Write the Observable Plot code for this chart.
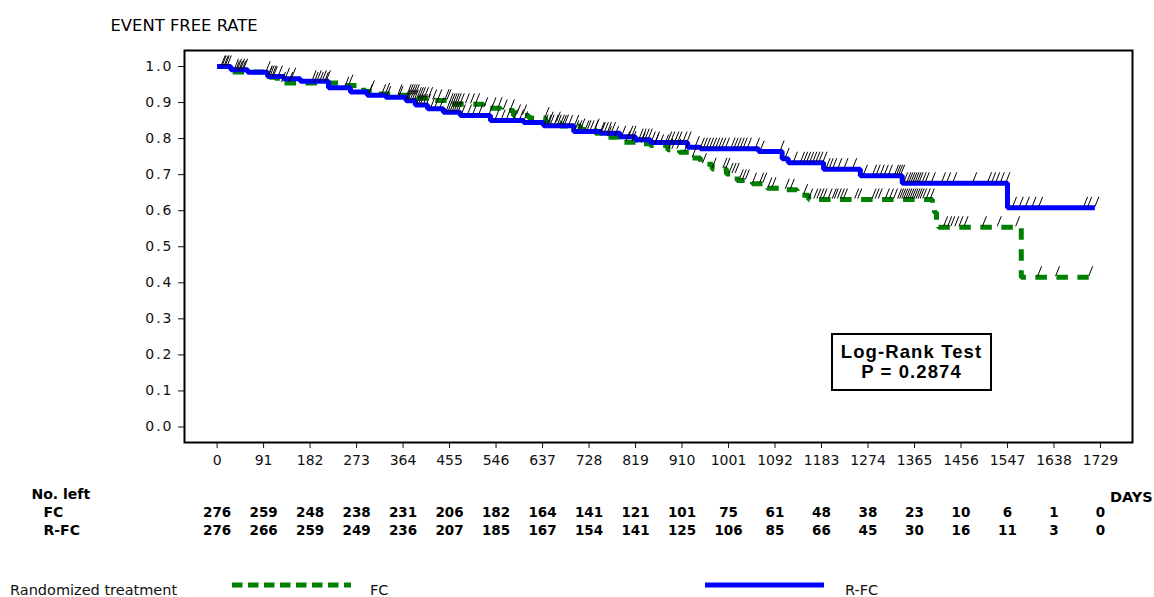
<!DOCTYPE html>
<html>
<head>
<meta charset="utf-8">
<script src="https://cdn.jsdelivr.net/npm/d3@7"></script>
<script src="https://cdn.jsdelivr.net/npm/@observablehq/plot@0.6"></script>
<style>
  body { margin: 0; background: #fff; }
  #wrap { position: relative; width: 1154px; height: 597px; background: #fff; overflow: hidden; }
  g[aria-label="y-axis tick label"] text { letter-spacing: 2px; }
  #box { position: absolute; left: 831px; top: 333px; width: 161px; height: 58px; box-sizing: border-box;
         border: 2px solid #000; padding-top: 7px; text-align: center;
         font-family: "Liberation Sans", Arial, sans-serif; font-weight: bold; font-size: 18.5px;
         line-height: 20px; letter-spacing: 1.1px; color: #000; }
  #legend { position: absolute; left: 0; top: 560px; }
</style>
</head>
<body>
<div id="wrap">
  <div id="chart"></div>
  <div id="box">Log-Rank Test<br>P = 0.2874</div>
</div>
<script>
// ---- data ----
const xTicks = [0, 91, 182, 273, 364, 455, 546, 637, 728, 819, 910, 1001, 1092, 1183, 1274, 1365, 1456, 1547, 1638, 1729];
const yTicks = [0, 0.1, 0.2, 0.3, 0.4, 0.5, 0.6, 0.7, 0.8, 0.9, 1.0];
const fcAtRisk  = [276, 259, 248, 238, 231, 206, 182, 164, 141, 121, 101, 75, 61, 48, 38, 23, 10, 6, 1, 0];
const rfcAtRisk = [276, 266, 259, 249, 236, 207, 185, 167, 154, 141, 125, 106, 85, 66, 45, 30, 16, 11, 3, 0];

// Kaplan-Meier step curves (day of step, survival after step)
const rfcDays = [0, 27, 60, 99, 130, 163, 218, 261, 294, 330, 370, 388, 412, 443, 476, 535, 600, 639, 698, 751, 789, 819, 848, 921, 946, 1060, 1106, 1118, 1187, 1259, 1341, 1547, 1718];
const rfcSurv = [1.000, 0.991, 0.984, 0.972, 0.966, 0.959, 0.941, 0.929, 0.920, 0.915, 0.905, 0.893, 0.883, 0.873, 0.864, 0.850, 0.845, 0.836, 0.820, 0.815, 0.805, 0.797, 0.789, 0.776, 0.772, 0.764, 0.744, 0.733, 0.715, 0.697, 0.676, 0.608, 0.608];
const fcDays = [0, 25, 91, 118, 255, 287, 314, 353, 392, 422, 451, 521, 555, 580, 610, 643, 672, 711, 741, 751, 784, 819, 848, 882, 905, 925, 946, 969, 997, 1018, 1048, 1077, 1108, 1135, 1158, 1400, 1404, 1408, 1412, 1574, 1706];
const fcSurv = [1.000, 0.985, 0.970, 0.954, 0.947, 0.931, 0.924, 0.920, 0.912, 0.906, 0.895, 0.884, 0.878, 0.864, 0.857, 0.844, 0.835, 0.825, 0.815, 0.804, 0.790, 0.786, 0.781, 0.769, 0.762, 0.746, 0.729, 0.716, 0.702, 0.684, 0.675, 0.662, 0.658, 0.643, 0.631, 0.615, 0.595, 0.572, 0.554, 0.4155, 0.4155];

// censored observation times
const rfcCensor = [8, 14, 20, 34, 40, 46, 52, 96, 100, 104, 108, 120, 134, 146, 186, 196, 206, 214, 250, 296, 322, 332, 356, 370, 374, 378, 382, 386, 390, 394, 398, 404, 410, 418, 426, 436, 448, 452, 456, 460, 464, 468, 472, 478, 490, 500, 512, 532, 544, 556, 566, 580, 592, 600, 640, 646, 652, 660, 666, 672, 680, 700, 706, 720, 724, 730, 738, 752, 758, 764, 772, 792, 806, 812, 826, 832, 838, 844, 850, 858, 882, 888, 896, 902, 912, 920, 936, 946, 952, 958, 964, 970, 976, 982, 988, 995, 1006, 1012, 1018, 1024, 1030, 1038, 1054, 1063, 1102, 1112, 1128, 1142, 1148, 1154, 1160, 1166, 1172, 1178, 1186, 1192, 1198, 1205, 1215, 1227, 1244, 1265, 1283, 1290, 1298, 1306, 1314, 1326, 1330, 1334, 1338, 1344, 1350, 1354, 1358, 1362, 1366, 1370, 1374, 1380, 1386, 1398, 1418, 1428, 1440, 1479, 1508, 1516, 1524, 1533, 1544, 1557, 1570, 1582, 1595, 1608, 1696, 1704, 1718];
const fcCensor = [10, 16, 36, 42, 48, 100, 110, 126, 140, 190, 200, 210, 258, 300, 330, 354, 372, 376, 380, 384, 388, 392, 396, 400, 406, 414, 422, 432, 446, 450, 454, 458, 462, 466, 470, 476, 486, 496, 506, 522, 538, 550, 560, 574, 586, 598, 642, 650, 664, 676, 688, 700, 712, 740, 750, 764, 778, 800, 812, 830, 856, 866, 876, 884, 890, 900, 915, 930, 950, 969, 990, 996, 1002, 1008, 1014, 1022, 1028, 1034, 1048, 1062, 1068, 1078, 1086, 1112, 1122, 1148, 1158, 1168, 1174, 1180, 1186, 1196, 1204, 1208, 1214, 1220, 1226, 1248, 1254, 1282, 1288, 1294, 1308, 1316, 1324, 1332, 1336, 1340, 1344, 1348, 1352, 1356, 1360, 1364, 1368, 1372, 1376, 1381, 1388, 1396, 1422, 1430, 1436, 1444, 1452, 1462, 1498, 1527, 1563, 1606, 1641, 1706];

const arms = ["FC", "R-FC"];
const legendTitle = "Randomized treatment";
const axisTitle = "EVENT FREE RATE";
const daysLabel = "DAYS";
const tableLabel = "No. left";

// ---- derived tables ----
const toSteps = (days, surv) => days.map((d, i) => ({day: d, surv: surv[i]}));
const survAt = (days, surv, t) => { let s = surv[0]; for (let i = 0; i < days.length; i++) if (days[i] <= t) s = surv[i]; return s; };
const fcLine = toSteps(fcDays, fcSurv);
const rfcLine = toSteps(rfcDays, rfcSurv);
const censor = [
  ...fcCensor.map(t => ({day: t, surv: survAt(fcDays, fcSurv, t)})),
  ...rfcCensor.map(t => ({day: t, surv: survAt(rfcDays, rfcSurv, t)}))
];
const riskFC = xTicks.map((d, i) => ({day: d, n: fcAtRisk[i]}));
const riskRFC = xTicks.map((d, i) => ({day: d, n: rfcAtRisk[i]}));

const slash = { draw(ctx) { ctx.moveTo(0, -1); ctx.lineTo(4, -11); } };
const tableFont = {fontFamily: "DejaVu Sans, sans-serif", fontWeight: "bold", fontSize: 13.5, fill: "#000", lineAnchor: "middle"};

const chart = Plot.plot({
  width: 1154, height: 560,
  marginTop: 50, marginBottom: 118, marginLeft: 184, marginRight: 22,
  style: {fontFamily: "DejaVu Sans, sans-serif", fontSize: "14px", background: "white", color: "#000"},
  x: {domain: [-63.8, 1791.7]},
  y: {domain: [-0.043, 1.0444]},
  marks: [
    Plot.axisX({ticks: xTicks, tickFormat: d => String(d), tickSize: 6, tickPadding: 7, label: null, fontSize: 14, color: "#111"}),
    Plot.axisY({ticks: yTicks, tickFormat: d => d.toFixed(1), tickSize: 6, tickPadding: 5, label: null, fontSize: 14, color: "#111"}),
    Plot.line(fcLine, {x: "day", y: "surv", curve: "step-after", stroke: "#008000", strokeWidth: 5,
      strokeDasharray: "11.5,9.5", strokeLinecap: "butt", strokeLinejoin: "miter"}),
    Plot.line(rfcLine, {x: "day", y: "surv", curve: "step-after", stroke: "#0000ff", strokeWidth: 5,
      strokeLinecap: "butt", strokeLinejoin: "miter"}),
    Plot.dot(censor, {x: "day", y: "surv", symbol: slash, fill: "none", stroke: "black", strokeWidth: 1}),
    Plot.frame({stroke: "black", strokeWidth: 2}),
    Plot.text([axisTitle], {frameAnchor: "top-left", dx: -74, dy: -25, textAnchor: "start", lineAnchor: "middle", fontSize: 16.4, fill: "#000"}),
    Plot.text([tableLabel], {frameAnchor: "bottom-left", dx: -153, dy: 51.7, textAnchor: "start", ...tableFont, fontSize: 14}),
    Plot.text([arms[0]], {frameAnchor: "bottom-left", dx: -141, dy: 69.7, textAnchor: "start", ...tableFont, fontSize: 14}),
    Plot.text([arms[1]], {frameAnchor: "bottom-left", dx: -141, dy: 87.7, textAnchor: "start", ...tableFont, fontSize: 14}),
    Plot.text([daysLabel], {frameAnchor: "bottom-left", dx: 925.5, dy: 55, textAnchor: "start", ...tableFont, fontSize: 14.5}),
    Plot.text(riskFC, {x: "day", text: "n", frameAnchor: "bottom", dy: 69.7, ...tableFont}),
    Plot.text(riskRFC, {x: "day", text: "n", frameAnchor: "bottom", dy: 87.7, ...tableFont})
  ]
});
document.getElementById("chart").appendChild(chart);

// ---- legend (below the plot svg) ----
const leg = d3.select("#wrap").append("svg").attr("id", "legend").attr("width", 1154).attr("height", 37)
  .style("font-family", "DejaVu Sans, sans-serif").style("font-size", "14.5px");
leg.append("text").attr("x", 10).attr("y", 34.5).attr("fill", "#111").text(legendTitle);
leg.append("line").attr("x1", 232).attr("x2", 351).attr("y1", 25).attr("y2", 25)
  .attr("stroke", "#008000").attr("stroke-width", 5).attr("stroke-dasharray", "10.5,5.5");
leg.append("text").attr("x", 370).attr("y", 34.5).attr("fill", "#111").text(arms[0]);
leg.append("line").attr("x1", 705).attr("x2", 824).attr("y1", 25).attr("y2", 25)
  .attr("stroke", "#0000ff").attr("stroke-width", 5);
leg.append("text").attr("x", 845).attr("y", 34.5).attr("fill", "#111").text(arms[1]);
</script>
</body>
</html>
